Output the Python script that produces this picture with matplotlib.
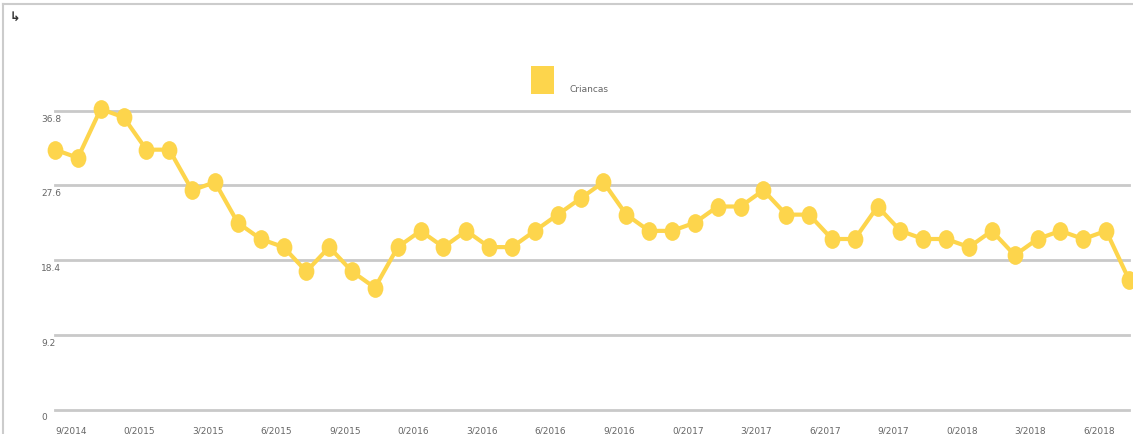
import numpy as np
import matplotlib
matplotlib.use("Agg")
import matplotlib.pyplot as plt
from matplotlib.path import Path
from matplotlib.patches import Rectangle
from matplotlib.lines import Line2D
from matplotlib.transforms import Affine2D, blended_transform_factory

# Daten (Monatswerte 9/2014 bis 8/2018)
months = list(range(48))
values = [32, 31, 37, 36, 32, 32, 27, 28, 23, 21, 20, 17, 20, 17, 15, 20,
          22, 20, 22, 20, 20, 22, 24, 26, 28, 24, 22, 22, 23, 25, 25, 27,
          24, 24, 21, 21, 25, 22, 21, 21, 20, 22, 19, 21, 22, 21, 22, 16]
series_name = "Criancas"

x_tick_pos = list(range(0, 48, 3))
x_tick_labels = ["9/2014", "0/2015", "3/2015", "6/2015", "9/2015", "0/2016",
                 "3/2016", "6/2016", "9/2016", "0/2017", "3/2017", "6/2017",
                 "9/2017", "0/2018", "3/2018", "6/2018"]
y_ticks = [0, 9.2, 18.4, 27.6, 36.8]
y_tick_labels = ["0", "9.2", "18.4", "27.6", "36.8"]

YELLOW = "#FDD54C"
GRID = "#c9c9c9"
TXT = "#666666"

W, H = 1133, 435
fig = plt.figure(figsize=(W / 100, H / 100), dpi=100)
fig.patch.set_facecolor("white")

# Achsenbereich in Pixeln
left, right, bottom, top = 55, 1129, 410.5, 111.7
ax = fig.add_axes([left / W, 1 - bottom / H, (right - left) / W, (bottom - top) / H])
ax.set_xlim(0, 47)
ax.set_ylim(0, 36.8)
for s in ax.spines.values():
    s.set_visible(False)
ax.set_facecolor("none")

# horizontale Gitterlinien
for yv in y_ticks:
    ax.axhline(yv, color=GRID, linewidth=2.0, zorder=1, clip_on=False)

# leicht ovaler Marker
oval = Path.unit_circle().transformed(Affine2D().scale(0.84, 1.0))
ax.plot(months, values, color=YELLOW, linewidth=3.0, marker=oval,
        markersize=13.5, markeredgewidth=0, zorder=3, clip_on=False)

ax.set_xticks([])
ax.set_yticks([])

# Achsenbeschriftungen
tr_y = blended_transform_factory(fig.transFigure, ax.transData)
for yv, lab in zip(y_ticks, y_tick_labels):
    ax.text(41 / W, yv, lab, transform=tr_y, ha="left", va="top",
            fontsize=6.5, color=TXT, clip_on=False)
    # Text etwas unter die Linie schieben
for t in ax.texts:
    t.set_transform(t.get_transform() + Affine2D().translate(0, -3))

tr_x = blended_transform_factory(ax.transData, fig.transFigure)
for xp, lab in zip(x_tick_pos, x_tick_labels):
    ax.text(xp, 1 - 431 / H, lab, transform=tr_x, ha="left", va="center",
            fontsize=6.5, color=TXT, clip_on=False)

# Legende
fig.patches.append(Rectangle((531 / W, 1 - 95 / H), 23 / W, 28 / H,
                             transform=fig.transFigure, facecolor=YELLOW,
                             edgecolor="none"))
fig.text(569 / W, 1 - 89 / H, series_name, ha="left", va="center",
         fontsize=6.5, color=TXT)

# Rahmen und Symbol
fig.add_artist(Line2D([3 / W, 1], [1 - 5 / H, 1 - 5 / H], transform=fig.transFigure,
                      color="#cccccc", linewidth=1.5))
fig.add_artist(Line2D([3 / W, 3 / W], [0, 1 - 5 / H], transform=fig.transFigure,
                      color="#cccccc", linewidth=1.5))
fig.text(10 / W, 1 - 17 / H, "\u21b3", ha="left", va="center", fontsize=9,
         color="#333333", fontweight="bold")

fig.savefig("out.png", dpi=100)
